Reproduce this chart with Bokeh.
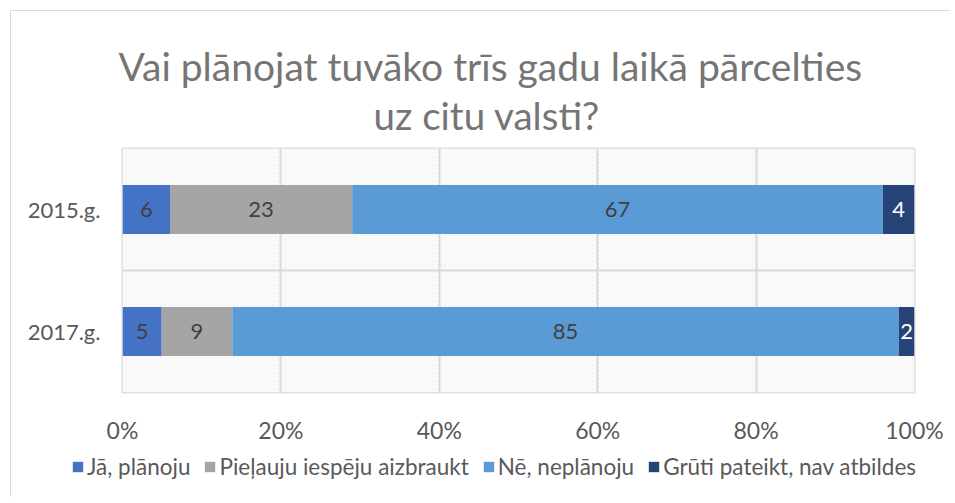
from bokeh.plotting import figure
from bokeh.layouts import column
from bokeh.models import FixedTicker, Legend, LegendItem, ColumnDataSource, Title
from bokeh.core.properties import value
from bokeh.embed import file_html
from bokeh.resources import INLINE

years = ["2015.g.", "2017.g."]
series = ["Jā, plānoju", "Pieļauju iespēju aizbraukt", "Nē, neplānoju", "Grūti pateikt, nav atbildes"]
values_2015 = [6, 23, 67, 4]
values_2017 = [5, 9, 85, 2]
colors = ["#4472C4", "#A5A5A5", "#5B9BD5", "#264478"]
label_colors = ["#404040", "#404040", "#404040", "#FFFFFF"]
x_ticks = [0, 0.2, 0.4, 0.6, 0.8, 1.0]
x_tick_labels = ["0%", "20%", "40%", "60%", "80%", "100%"]
title_lines = ["Vai plānojat tuvāko trīs gadu laikā pārcelties", "uz citu valsti?"]

FONT = "Lato"
rows = [values_2015, values_2017]
ypos = [1.5, 0.5]

p = figure(frame_width=792, frame_height=244, x_range=(0, 1), y_range=(0, 2),
           output_backend="svg", toolbar_location=None,
           min_border_left=111, min_border_right=36, min_border_top=137, min_border_bottom=60)
p.outline_line_color = "#d9d9d9"
p.outline_line_width = 2

# hatched background
p.quad(left=[0], right=[1], bottom=[0], top=[2], fill_color="white",
       hatch_pattern="x", hatch_color="#e3e3e3", hatch_scale=4, hatch_weight=0.6,
       line_color=None, level="image")

p.xgrid.ticker = FixedTicker(ticks=x_ticks)
p.ygrid.ticker = FixedTicker(ticks=[0, 1, 2])
for g in (p.xgrid, p.ygrid):
    g.grid_line_color = "#d9d9d9"
    g.grid_line_width = 2

p.xaxis.ticker = FixedTicker(ticks=x_ticks)
p.xaxis.major_label_overrides = {t: l for t, l in zip(x_ticks, x_tick_labels)}
p.yaxis.ticker = FixedTicker(ticks=ypos)
p.yaxis.major_label_overrides = {y: l for y, l in zip(ypos, years)}
for ax in (p.xaxis, p.yaxis):
    ax.axis_line_color = None
    ax.major_tick_line_color = None
    ax.minor_tick_line_color = None
    ax.major_tick_out = 0
    ax.major_label_text_font = FONT
    ax.major_label_text_color = "#595959"
p.xaxis.major_label_text_font_size = "23px"
p.xaxis.major_label_standoff = 23
p.yaxis.major_label_text_font_size = "22px"
p.yaxis.major_label_standoff = 22

for si, name in enumerate(series):
    lefts, rights, ys, labels, mids = [], [], [], [], []
    for ri, row in enumerate(rows):
        total = sum(row)
        start = sum(row[:si]) / total
        end = start + row[si] / total
        lefts.append(start)
        rights.append(end)
        ys.append(ypos[ri])
        labels.append(str(row[si]))
        mids.append((start + end) / 2)
    src = ColumnDataSource(dict(left=lefts, right=rights, y=ys, label=labels, mid=mids))
    p.hbar(y="y", left="left", right="right", height=0.4, source=src,
           fill_color=colors[si], line_color=None)
    p.text(x="mid", y="y", text="label", source=src, text_align="center",
           text_baseline="middle", text_font=value(FONT),
           text_font_size="22px", text_color=label_colors[si])

# title lines (second line nearest the plot)
p.title = None
p.add_layout(Title(text=title_lines[1], align="left", offset=251, standoff=22,
                   text_font=FONT, text_font_size="38.5px", text_font_style="normal",
                   text_color="#757575"), "above")
p.add_layout(Title(text=title_lines[0], align="left", offset=-4, standoff=-20,
                   text_font=FONT, text_font_size="39px", text_font_style="normal",
                   text_color="#757575"), "above")

# legend strip below the chart
lg = figure(width=939, height=45, x_range=(0, 939), y_range=(0, 45),
            output_backend="svg", toolbar_location=None,
            x_axis_location=None, y_axis_location=None,
            min_border_left=0, min_border_right=0, min_border_top=0, min_border_bottom=0)
lg.outline_line_color = None
lg.grid.visible = False
lg.title = None
leg_renderers = []
for si, name in enumerate(series):
    r = lg.hbar(y=[-100], left=[0], right=[10], height=1,
                fill_color=colors[si], line_color=None)
    leg_renderers.append(r)

legend = Legend(items=[LegendItem(label=n, renderers=[r]) for n, r in zip(series, leg_renderers)],
                orientation="horizontal", location=(60, 17))
legend.glyph_width = 13
legend.glyph_height = 13
legend.label_text_font = FONT
legend.label_text_font_size = "22.5px"
legend.label_text_color = "#595959"
legend.label_standoff = 3
legend.spacing = 13
legend.padding = 0
legend.margin = 0
legend.border_line_color = None
legend.background_fill_alpha = 0
lg.add_layout(legend, "center")

try:
    if "frame_align" in lg.properties():
        lg.frame_align = False
        p.frame_align = False
    else:
        raise AttributeError
except Exception:
    # frames get aligned: keep the legend inside the aligned frame
    legend.location = (0, 17)
    legend.label_text_font_size = "20px"
    legend.spacing = 8

layout = column(p, lg, spacing=0)
layout.styles = {"border-top": "1px solid #d9d9d9", "border-left": "1px solid #d9d9d9",
                 "margin-left": "10px", "margin-top": "10px"}

open("out.html", "w").write(file_html(layout, INLINE))
